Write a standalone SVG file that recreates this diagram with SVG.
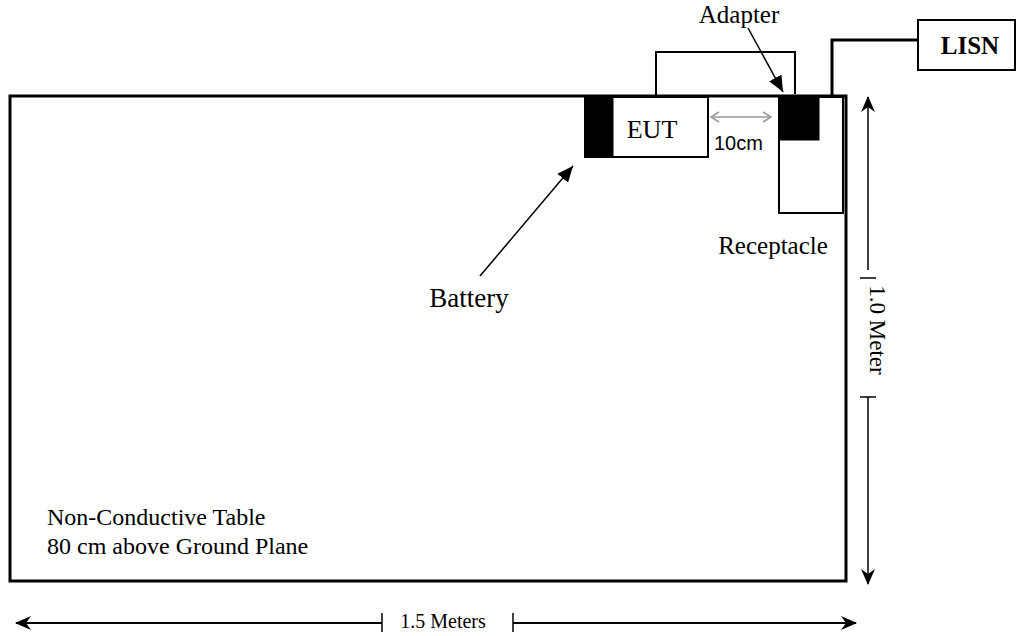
<svg xmlns="http://www.w3.org/2000/svg" width="1019" height="636" viewBox="0 0 1019 636">
<style>
.serif{font-family:"Liberation Serif","Times New Roman",serif;fill:#000}
.sans{font-family:"Liberation Sans",Arial,sans-serif;fill:#000}
.thin{fill:#fff;stroke:#000;stroke-width:2}
.blk{fill:#000;stroke:#000;stroke-width:1}
.ln{fill:none;stroke:#000;stroke-width:2}
</style>
<defs>
<marker id="barb" viewBox="0 0 16 14" refX="15" refY="7" markerWidth="16" markerHeight="14" markerUnits="userSpaceOnUse" orient="auto-start-reverse">
<path d="M16 7 L0 0 L5 7 L0 14 Z" fill="#000"/>
</marker>
<marker id="tri" viewBox="0 0 16 14" refX="16" refY="7" markerWidth="16" markerHeight="14" markerUnits="userSpaceOnUse" orient="auto">
<path d="M16 7 L0 0 L0 14 Z" fill="#000"/>
</marker>
<marker id="gray" viewBox="0 0 10 12" refX="9" refY="6" markerWidth="10" markerHeight="12" markerUnits="userSpaceOnUse" orient="auto-start-reverse">
<path d="M1 1 L9 6 L1 11" fill="none" stroke="#999" stroke-width="1.5"/>
</marker>
</defs>

<g id="table">
<rect x="10" y="96" width="836" height="485" fill="#fff" stroke="#000" stroke-width="3"/>
<text class="serif" x="47" y="525" font-size="24">Non-Conductive Table</text>
<text class="serif" x="47" y="554" font-size="24">80 cm above Ground Plane</text>
</g>

<g id="connectors">
<polyline class="ln" points="656,96 656,52 795,52 795,94"/>
<polyline fill="none" stroke="#000" stroke-width="3" points="832,96 832,40 918,40"/>
<line x1="711" y1="117" x2="771" y2="117" stroke="#999" stroke-width="1.5" marker-start="url(#gray)" marker-end="url(#gray)"/>
<line x1="748" y1="28" x2="783" y2="92" stroke="#000" stroke-width="1.5" marker-end="url(#tri)"/>
<line x1="480" y1="276" x2="573" y2="166" stroke="#000" stroke-width="1.5" marker-end="url(#tri)"/>
</g>

<g id="eut">
<rect class="thin" x="585" y="97" width="123" height="60"/>
<rect class="blk" x="585" y="97" width="28" height="60"/>
<text class="serif" x="652" y="138" font-size="26" text-anchor="middle">EUT</text>
</g>

<g id="receptacle">
<rect class="thin" x="779" y="97" width="64" height="116"/>
<rect class="blk" x="779" y="97" width="40" height="43"/>
<text class="serif" x="773" y="254" font-size="25" text-anchor="middle">Receptacle</text>
</g>

<g id="labels">
<text class="serif" x="739" y="23" font-size="25" text-anchor="middle">Adapter</text>
<text class="serif" x="469" y="307" font-size="27" text-anchor="middle">Battery</text>
<text class="sans" x="714" y="150" font-size="20">10cm</text>
</g>

<g id="lisn">
<rect class="thin" x="918" y="20" width="97" height="50"/>
<text class="serif" x="970" y="54" font-size="25" font-weight="bold" text-anchor="middle">LISN</text>
</g>

<g id="dim-height">
<line x1="868" y1="97" x2="868" y2="270" stroke="#000" stroke-width="1.5" marker-start="url(#barb)"/>
<line x1="860" y1="278" x2="876" y2="278" stroke="#000" stroke-width="1.5"/>
<text class="serif" transform="translate(870,330) rotate(90)" font-size="23" text-anchor="middle">1.0 Meter</text>
<line x1="860" y1="397" x2="876" y2="397" stroke="#000" stroke-width="1.5"/>
<line x1="868" y1="397" x2="868" y2="584" stroke="#000" stroke-width="1.5" marker-end="url(#barb)"/>
</g>

<g id="dim-width">
<line x1="16" y1="623" x2="382" y2="623" stroke="#000" stroke-width="2" marker-start="url(#barb)"/>
<line x1="382" y1="613" x2="382" y2="632" stroke="#000" stroke-width="1.5"/>
<text class="serif" x="443" y="628" font-size="20" text-anchor="middle">1.5 Meters</text>
<line x1="513" y1="613" x2="513" y2="632" stroke="#000" stroke-width="1.5"/>
<line x1="513" y1="623" x2="856" y2="623" stroke="#000" stroke-width="2" marker-end="url(#barb)"/>
</g>
</svg>
